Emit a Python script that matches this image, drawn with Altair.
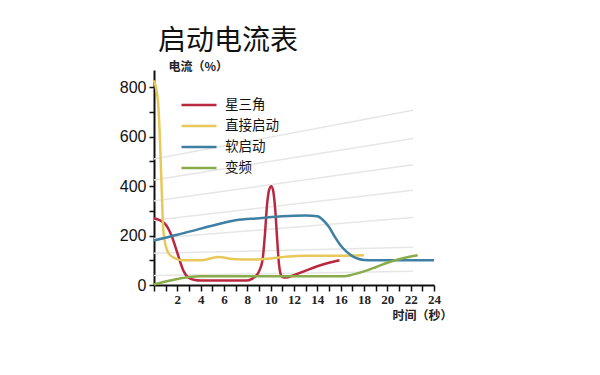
import altair as alt
import pandas as pd

series_names = ["星三角", "直接启动", "软启动", "变频"]
series_colors = ["#b8283f", "#e8c85a", "#3e7fa3", "#8aab4a"]

star_t = [0, 0.5, 1, 1.5, 2, 2.5, 3, 3.5, 4, 5, 6, 7, 7.9, 8.4, 8.8, 9.0, 9.3, 9.5, 9.7, 9.9, 10.05, 10.2, 10.4, 10.55, 10.7, 10.85, 11.0, 11.3, 12, 13, 14, 15, 15.9]
star_v = [270, 262, 245, 200, 130, 60, 28, 20, 18, 18, 18, 18, 18, 25, 40, 55, 100, 200, 330, 390, 400, 385, 300, 190, 90, 45, 32, 30, 40, 58, 76, 90, 100]

direct_t = [0, 0.2, 0.35, 0.5, 0.65, 0.8, 1.0, 1.3, 1.8, 2.5, 4, 5.5, 7, 8.7, 10, 11.5, 13, 16, 18]
direct_v = [828, 790, 740, 600, 400, 220, 160, 125, 108, 100, 100, 113, 104, 103, 107, 115, 118, 118, 120]

soft_t = [0, 2, 4, 6, 7, 9, 11, 13, 14, 14.5, 15, 15.5, 16, 16.5, 17, 17.5, 18, 19, 24]
soft_v = [180, 203, 228, 252, 262, 270, 278, 281, 278, 262, 235, 195, 160, 135, 117, 106, 101, 100, 100]

vfd_t = [0, 1, 2, 3, 4, 8, 12, 16.3, 17, 18, 19, 20, 21, 22, 22.6]
vfd_v = [2, 14, 24, 32, 35, 35, 35, 35, 42, 55, 72, 90, 104, 115, 120]

# faint background guide lines (start value at t=0, end value at t=22.2)
guide_t0 = [0, 0, 0, 0, 0, 0, 0]
guide_v0 = [510, 425, 340, 262, 188, 128, 38]
guide_t1 = [22.2, 22.2, 22.2, 22.2, 22.2, 22.2, 22.2]
guide_v1 = [707, 593, 487, 383, 273, 153, 56]

x_ticks = list(range(0, 25))
y_ticks = [0, 100, 200, 300, 400, 500, 600, 700, 800]

rows = []
for name, ts, vs in zip(series_names, [star_t, direct_t, soft_t, vfd_t], [star_v, direct_v, soft_v, vfd_v]):
    for t, v in zip(ts, vs):
        rows.append({"series": name, "t": t, "v": v})
df = pd.DataFrame(rows)

guides = pd.DataFrame({"t0": guide_t0, "v0": guide_v0, "t1": guide_t1, "v1": guide_v1})

xscale = alt.Scale(domain=[0, 24], nice=False, zero=False)
yscale = alt.Scale(domain=[0, 870], nice=False)

x_axis = alt.Axis(
    values=x_ticks,
    labelExpr="(datum.value % 2 == 0 && datum.value > 0) ? datum.label : ''",
    grid=False, domainColor="#111", domainWidth=2, tickColor="#111", tickWidth=1.5, tickSize=6,
    labelFont="Liberation Serif", labelFontWeight="bold", labelFontSize=13, labelColor="#222",
    labelPadding=2, labelFlush=False, labelOverlap=False, labelBound=False,
    title="时间（秒）", titleFont="Noto Sans CJK SC", titleFontSize=12, titleFontWeight="bold",
    titleColor="#222", titleAnchor="start", titleAlign="left", titleX=238, titleY=30,
    titleBaseline="middle",
)
y_axis = alt.Axis(
    values=y_ticks,
    labelExpr="datum.value % 200 == 0 ? datum.label : ''",
    grid=False, domainColor="#111", domainWidth=2, tickColor="#111", tickWidth=1.5, tickSize=5,
    labelFont="Liberation Sans", labelFontSize=16, labelColor="#111", labelPadding=3,
    labelOverlap=False, labelFlush=False, labelBound=False,
    title="电流（%）", titleFont="Noto Sans CJK SC", titleFontSize=12, titleFontWeight="bold",
    titleColor="#222", titleAngle=0, titleAlign="left", titleX=14, titleY=-4,
    titleBaseline="middle",
)

guide_layer = alt.Chart(guides).mark_rule(color="#e6e6e6", strokeWidth=1.5).encode(
    x=alt.X("t0:Q", scale=xscale, axis=x_axis),
    y=alt.Y("v0:Q", scale=yscale, axis=y_axis),
    x2="t1:Q",
    y2="v1:Q",
)

line_layer = alt.Chart(df).mark_line(strokeWidth=2.5, interpolate="monotone").encode(
    x=alt.X("t:Q", scale=xscale, axis=x_axis),
    y=alt.Y("v:Q", scale=yscale, axis=y_axis),
    color=alt.Color(
        "series:N",
        scale=alt.Scale(domain=series_names, range=series_colors),
        sort=series_names,
        legend=alt.Legend(
            title=None, orient="none", legendX=26, legendY=27,
            symbolType="stroke", symbolSize=1225, symbolStrokeWidth=2.5,
            clipHeight=16, rowPadding=5, labelFont="Noto Sans CJK SC", labelFontSize=13.5,
            labelColor="#111", labelOffset=7,
        ),
    ),
    order=alt.Order("t:Q"),
)

chart = alt.layer(guide_layer, line_layer).properties(
    width=280,
    height=215,
    title=alt.TitleParams("启动电流表", anchor="start", frame="group", fontSize=28,
                          font="Noto Sans CJK SC", fontWeight="normal", color="#111",
                          dx=4, offset=4),
    autosize=alt.AutoSizeParams(type="none"),
    padding={"left": 146, "top": 62, "right": 150, "bottom": 80},
).configure_view(strokeWidth=0)

chart.save("out.html", embed_options={"renderer": "svg", "actions": False})
